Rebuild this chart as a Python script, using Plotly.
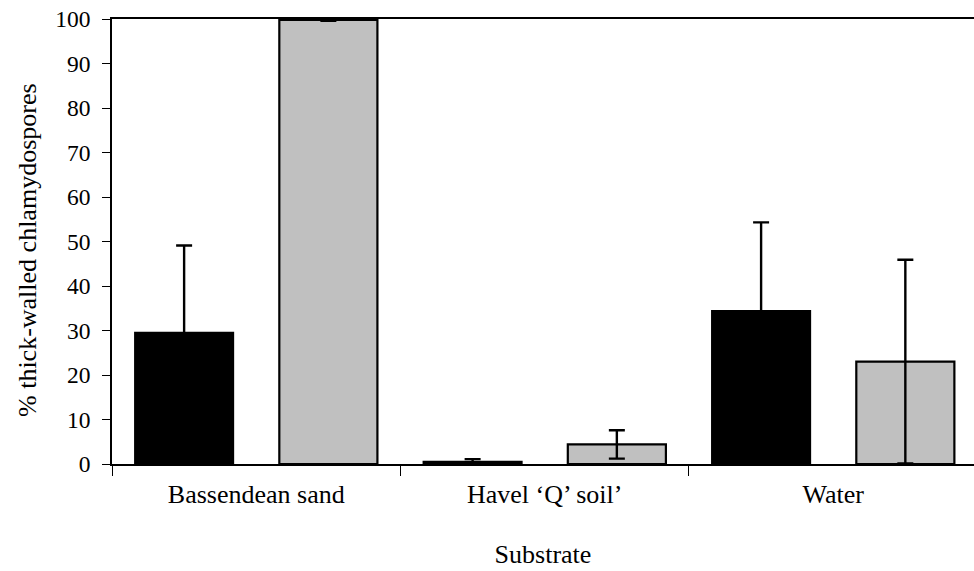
import plotly.graph_objects as go

categories = ["Bassendean sand", "Havel \u2018Q\u2019 soil\u2019", "Water"]
series_a = [29.5, 0.5, 34.4]
series_a_err = [19.6, 0.6, 19.9]
series_b = [99.8, 4.4, 23.0]
series_b_err = [0.2, 3.2, 22.9]
y_ticks = list(range(0, 101, 10))

font_family = "Liberation Serif, Times New Roman, serif"

fig = go.Figure()
fig.add_trace(go.Bar(
    x=categories, y=series_a,
    marker=dict(color="#000000", line=dict(color="#000000", width=2)),
    error_y=dict(type="data", array=series_a_err, symmetric=True,
                 color="#000000", thickness=2.4, width=8),
    showlegend=False,
))
fig.add_trace(go.Bar(
    x=categories, y=series_b,
    marker=dict(color="#C0C0C0", line=dict(color="#000000", width=2.2)),
    error_y=dict(type="data", array=series_b_err, symmetric=True,
                 color="#000000", thickness=2.4, width=8),
    showlegend=False,
))

fig.update_layout(
    width=974, height=571,
    margin=dict(l=112, r=0, t=19, b=107),
    paper_bgcolor="white", plot_bgcolor="white",
    barmode="group", bargap=0.0, bargroupgap=0.32,
    font=dict(family=font_family, size=26, color="#000000"),
    annotations=[dict(
        text="% thick-walled chlamydospores", textangle=-90,
        xref="paper", yref="paper", x=-0.0974, y=0.481,
        xanchor="center", yanchor="middle", showarrow=False,
        font=dict(family=font_family, size=26, color="#000000"),
    )],
)
fig.update_xaxes(
    type="category", range=[-0.5, 2.488],
    tickson="boundaries", ticks="outside", ticklen=10, tickwidth=1.2, tickcolor="#000000",
    showline=True, linecolor="#000000", linewidth=1.8, mirror=True,
    showgrid=False, zeroline=False, ticklabelstandoff=6,
    tickfont=dict(family=font_family, size=26),
    title=dict(text="Substrate", font=dict(family=font_family, size=26), standoff=37),
)
fig.update_yaxes(
    range=[0, 100], tickvals=y_ticks, ticks="outside", ticklen=8, tickwidth=1.2,
    tickcolor="#000000", showline=True, linecolor="#000000", linewidth=1.8,
    showgrid=False, zeroline=False, ticklabelstandoff=7,
    tickfont=dict(family=font_family, size=23.5),
)

fig.write_html("out.html")
